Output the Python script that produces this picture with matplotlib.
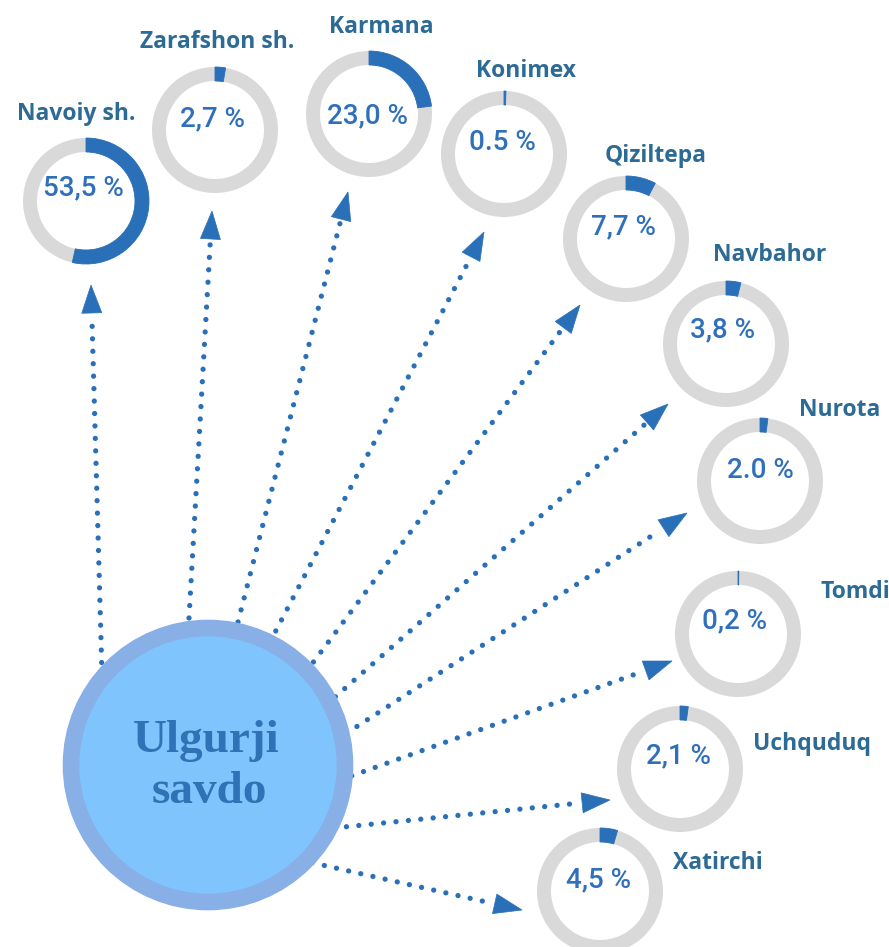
# -*- coding: utf-8 -*-
# Ulgurji savdo : part de chaque district (donuts + fleches pointillees)

import numpy as np
import matplotlib.pyplot as plt
from matplotlib.patches import Wedge, Circle, Polygon
from matplotlib import font_manager

#==============================================================================================
# Donnees =====================================================================================
#==============================================================================================

districts = ['Navoiy sh.', 'Zarafshon sh.', 'Karmana', 'Konimex', 'Qiziltepa',
             'Navbahor', 'Nurota', 'Tomdi', 'Uchquduq', 'Xatirchi']
pourcentages = [53.5, 2.7, 23.0, 0.5, 7.7, 3.8, 2.0, 0.2, 2.1, 4.5]
textes_pct = ['53,5 %', '2,7 %', '23,0 %', '0.5 %', '7,7 %',
              '3,8 %', '2.0 %', '0,2 %', '2,1 %', '4,5 %']
titre_centre = ['Ulgurji', 'savdo']

#==============================================================================================
# Mise en page (pixels) =======================================================================
#==============================================================================================

centres_donut = [(86, 201), (215, 130), (369, 114), (504, 154), (626, 239),
                 (726, 344), (760, 481), (738, 634), (680, 769), (600, 891)]
pos_noms = [(76, 114), (217, 42), (381, 27), (526, 71), (656, 156),
            (770, 255), (840, 410), (855, 592), (812, 744), (718, 863)]
decal_pct = [(-3, -13), (-3, -11), (-2, 2), (-2, -12), (-3, -12),
             (-3, -14), (0, -11), (-3, -13), (-2, -13), (-2, -11)]
fleche_debut = [(102, 675), (189, 618), (238, 622), (270, 642), (306, 672),
                (326, 705), (336, 740), (340, 780), (334, 828), (300, 860)]
fleche_fin = [(91, 285), (212, 211), (348, 192), (484, 232), (580, 305),
              (668, 404), (687, 513), (672, 661), (610, 800), (522, 910)]

centre_cercle = (208, 765)
rayon_cercle = 137

rayon_donut = 63
epaisseur = 14

bleu = '#2a70b8'
gris = '#d9d9d9'
bleu_pct = '#2f6fbb'
bleu_nom = '#2c6b95'

# polices dispo ?
dispo = {f.name for f in font_manager.fontManager.ttflist}
police_pct = 'Roboto' if 'Roboto' in dispo else 'DejaVu Sans'
police_nom = 'Open Sans' if 'Open Sans' in dispo else 'DejaVu Sans'
police_centre = 'Liberation Serif' if 'Liberation Serif' in dispo else 'DejaVu Serif'

#==============================================================================================
# Graphique ===================================================================================
#==============================================================================================

fig = plt.figure(figsize=(8.89, 9.47), dpi=100)
ax = fig.add_axes([0, 0, 1, 1])
ax.set_xlim(0, 889)
ax.set_ylim(947, 0)
ax.set_aspect('equal')
ax.axis('off')

# fleches pointillees
longueur_tete = 28
demi_largeur = 10
for (x0, y0), (x1, y1) in zip(fleche_debut, fleche_fin):
    d = np.array([x1 - x0, y1 - y0], dtype=float)
    d = d / np.hypot(*d)
    n = np.array([-d[1], d[0]])
    base = np.array([x1, y1]) - longueur_tete * d
    fin_ligne = base - 4 * d
    ax.plot([x0, fin_ligne[0]], [y0, fin_ligne[1]], color=bleu, linewidth=3.8,
            linestyle=(0, (0.01, 2.35)), dash_capstyle='round', zorder=1)
    tete = [(x1, y1), tuple(base + demi_largeur * n), tuple(base - demi_largeur * n)]
    ax.add_patch(Polygon(tete, closed=True, facecolor=bleu, edgecolor=bleu,
                         linewidth=0.5, zorder=2))

# cercle central
ax.add_patch(Circle(centre_cercle, rayon_cercle, facecolor='#80c4fd',
                    edgecolor='#88afe6', linewidth=12, zorder=3))
ax.text(centre_cercle[0] - 2, 752, titre_centre[0], ha='center', va='baseline',
        fontsize=34, fontweight='bold', family=police_centre, color='#2f72b5', zorder=4)
ax.text(centre_cercle[0] + 1, 803, titre_centre[1], ha='center', va='baseline',
        fontsize=34, fontweight='bold', family=police_centre, color='#2f72b5', zorder=4)

# donuts
for i, nom in enumerate(districts):
    cx, cy = centres_donut[i]
    ax.add_patch(Wedge((cx, cy), rayon_donut, 0, 360, width=epaisseur,
                       facecolor=gris, edgecolor='none', zorder=2))
    # y inverse : on part du haut (-90) et on tourne dans le sens horaire a l'ecran
    angle = 360 * pourcentages[i] / 100
    ax.add_patch(Wedge((cx, cy), rayon_donut, -90, -90 + angle, width=epaisseur,
                       facecolor=bleu, edgecolor=bleu, linewidth=0.6, zorder=3))
    dx, dy = decal_pct[i]
    ax.text(cx + dx, cy + dy, textes_pct[i], ha='center', va='center',
            fontsize=20, fontweight='medium', family=police_pct, color=bleu_pct, zorder=4)
    ax.text(pos_noms[i][0], pos_noms[i][1], nom, ha='center', va='center',
            fontsize=16.5, fontweight='bold', family=police_nom, color=bleu_nom, zorder=4)

plt.savefig('out.png', dpi=100)
